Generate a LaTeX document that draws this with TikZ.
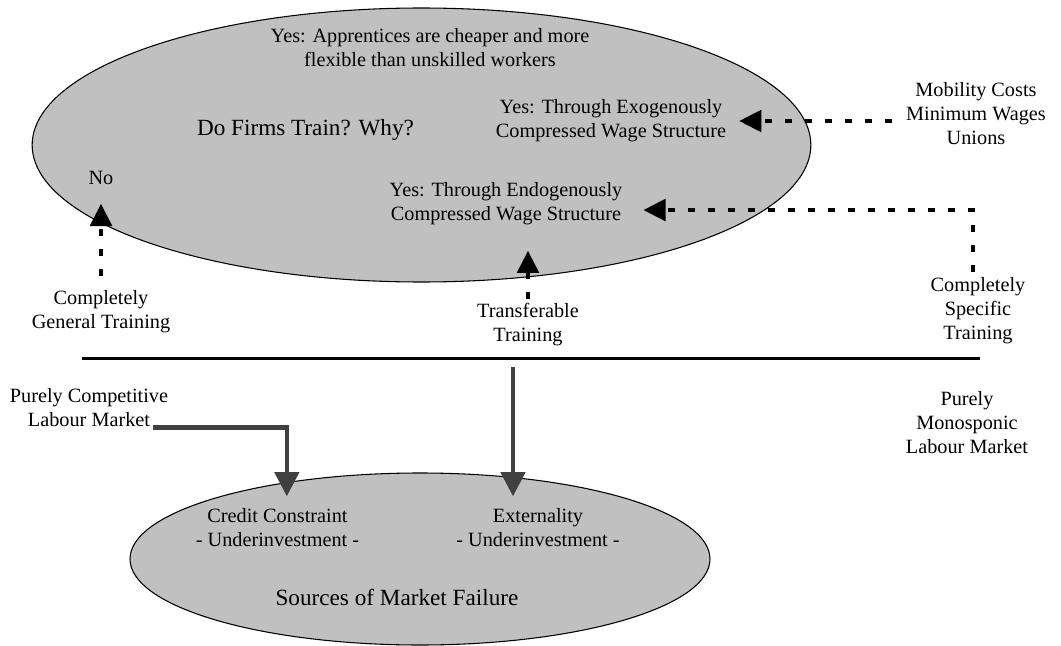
\documentclass[tikz,border=0pt]{standalone}
\usepackage{fontspec}
\setmainfont{Liberation Serif}
\usetikzlibrary{arrows.meta,shapes.geometric}
\definecolor{oval}{RGB}{192,192,192}
\definecolor{pipe}{RGB}{64,64,64}

\begin{document}
\begin{tikzpicture}[x=0.75pt,y=-0.75pt,
    oval/.style={ellipse, draw, fill=oval, line width=0.8pt, inner sep=0pt},
    lbl/.style={inner sep=0pt, align=center, font=\fontsize{15.2}{18}\selectfont},
    title/.style={lbl, font=\fontsize{17.4}{21}\selectfont},
    dasharrow/.style={-{Triangle[width=17pt,length=16.5pt,line width=0pt]},
      line width=3pt, dash pattern=on 5.5pt off 9.5pt},
    pipearrow/.style={-{Triangle[width=19pt,length=18pt,line width=0pt]},
      draw=pipe, line width=3.4pt}]
  \useasboundingbox (0,0) rectangle (1061,646);

  % the two ovals
  \node[oval, minimum width=584pt, minimum height=205.5pt] (firms) at (421.5,145) {};
  \node[oval, minimum width=435pt, minimum height=129pt] (failure) at (420,559) {};

  % inside the upper oval
  \node[lbl] (cheap) at (430,48) {Yes: Apprentices are cheaper and more\\flexible than unskilled workers};
  \node[title] (why) at (305.5,130) {Do Firms Train? Why?};
  \node[lbl] (exo) at (611,121) {Yes: Through Exogenously\\Compressed Wage Structure};
  \node[lbl] (no) at (101,178) {No};
  \node[lbl] (endo) at (506,203.5) {Yes: Through Endogenously\\Compressed Wage Structure};

  % labels round about
  \node[lbl] (mob) at (976,114) {Mobility Costs\\Minimum Wages\\Unions};
  \node[lbl] (gen) at (101,311.5) {Completely\\General Training};
  \node[lbl] (trans) at (528,325) {Transferable\\Training};
  \node[lbl] (spec) at (978,311) {Completely\\Specific\\Training};
  \node[lbl] (comp) at (89,398) {Purely Competitive};
  \node[lbl] (lab) at (89,420) {Labour Market};
  \node[lbl] (mono) at (967,423) {Purely\\Monosponic\\Labour Market};

  % inside the lower oval
  \node[lbl] (credit) at (277.5,527.5) {Credit Constraint\\- Underinvestment -};
  \node[lbl] (ext) at (538,527.5) {Externality\\- Underinvestment -};
  \node[title] (src) at (397,597) {Sources of Market Failure};

  % dashed arrows
  \draw[dasharrow, shorten <=10.5pt, shorten >=14.25pt] (gen.north) -- (no.south);
  \draw[dasharrow, shorten <=3pt, shorten >=19.5pt] (trans.north) -- (trans.north |- endo.south);
  \draw[dasharrow, shorten <=10.5pt, shorten >=9.75pt] (mob.west |- exo.east) -- (exo.east);
  \draw[dasharrow, shorten <=4pt, shorten >=15.75pt] ([xshift=-3.75pt]spec.north) |- ([yshift=-4.9pt]endo.east);

  % the training scale
  \coordinate (ruleL) at (82,358);
  \coordinate (ruleR) at (980,358);
  \draw[line width=2.25pt] (ruleL) -- (ruleR);

  % grey arrows down to the failures
  \coordinate (drop) at (513,367);
  \draw[pipearrow, shorten >=9pt] (drop) -- (drop |- ext.north);
  \draw[pipearrow, shorten >=9pt] ([xshift=2pt]lab.south east) -| ([xshift=7pt]credit.north);
\end{tikzpicture}
\end{document}
